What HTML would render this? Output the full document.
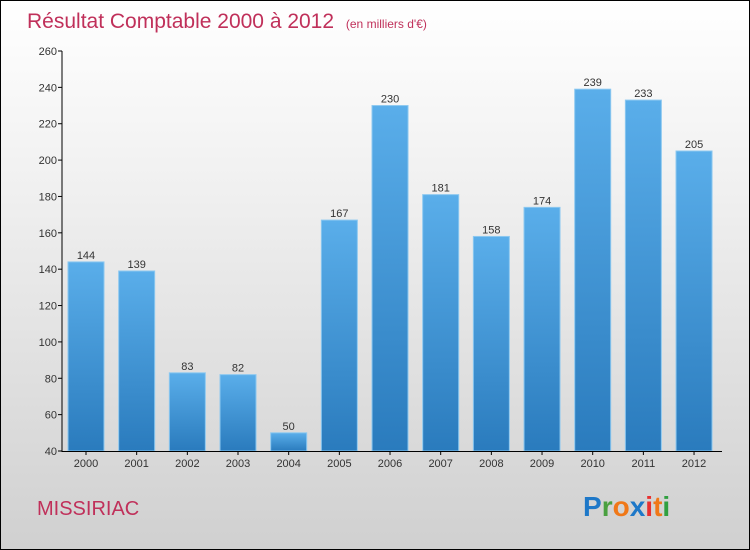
<!DOCTYPE html>
<html><head><meta charset="utf-8"><style>
body{margin:0}
#c{position:relative;width:748px;height:548px;border:1px solid #000;background:linear-gradient(#ffffff,#f2f2f2 30%,#d0d0d0);font-family:"Liberation Sans",sans-serif;overflow:hidden}
svg{position:absolute;left:0;top:0}
</style></head><body>
<div id="c">
<svg id="s" width="748" height="548">
<defs><linearGradient id="g" x1="0" y1="0" x2="0" y2="1"><stop offset="0" stop-color="#5aaeea"/><stop offset="1" stop-color="#2a7bbd"/></linearGradient></defs>
<text x="26" y="27" font-size="21" fill="#c0305a">Résultat Comptable 2000 à 2012 <tspan font-size="12" dx="6">(en milliers d'€)</tspan></text>
<text x="36" y="514" font-size="20" fill="#c0305a">MISSIRIAC</text>
<text x="582" y="515" font-size="28" font-weight="bold"><tspan fill="#1e78c8">P</tspan><tspan fill="#4aa040">r</tspan><tspan fill="#f07818">o</tspan><tspan fill="#1e78c8">x</tspan><tspan fill="#e83030">i</tspan><tspan fill="#f07818">t</tspan><tspan fill="#30a040">i</tspan></text>
<g id="plot"></g>
</svg></div>
<script>
const categories=["2000","2001","2002","2003","2004","2005","2006","2007","2008","2009","2010","2011","2012"];
const values=[144,139,83,82,50,167,230,181,158,174,239,233,205];
const ticks=[40,60,80,100,120,140,160,180,200,220,240,260];
const ns="http://www.w3.org/2000/svg";
const g=document.getElementById('plot');
const y=v=>450-(v-40)*400/220;
const x=i=>85+i*50.67;
function el(t,a,p){const e=document.createElementNS(ns,t);for(const k in a)e.setAttribute(k,a[k]);(p||g).appendChild(e);return e;}
ticks.forEach(t=>{
 const l=el('line',{x1:57,x2:61,y1:y(t),y2:y(t),stroke:'#000'});
 
 
 const tx=el('text',{x:56,y:y(t)+4,'text-anchor':'end','font-size':11,fill:'#333'});
 tx.textContent=t;
 
 
});
values.forEach((v,i)=>{
 const r=el('rect',{x:x(i)-18,y:y(v),width:36,height:450-y(v),fill:'url(#g)',stroke:'#8cc8f0','stroke-width':1});
 
 
 const t=el('text',{x:x(i),y:y(v)-3,'text-anchor':'middle','font-size':11,fill:'#333'});
 t.textContent=v;
 
 
 const c=el('text',{x:x(i),y:466,'text-anchor':'middle','font-size':11,fill:'#333'});
 c.textContent=categories[i];
 
 
 const tk=el('line',{x1:x(i),x2:x(i),y1:450,y2:454,stroke:'#000'});
 
 
});
const ya=el('line',{x1:61,x2:61,y1:50,y2:451,stroke:'#000'});


const xa=el('line',{x1:61,x2:721,y1:450.5,y2:450.5,stroke:'#000'});


</script>
</body></html>
